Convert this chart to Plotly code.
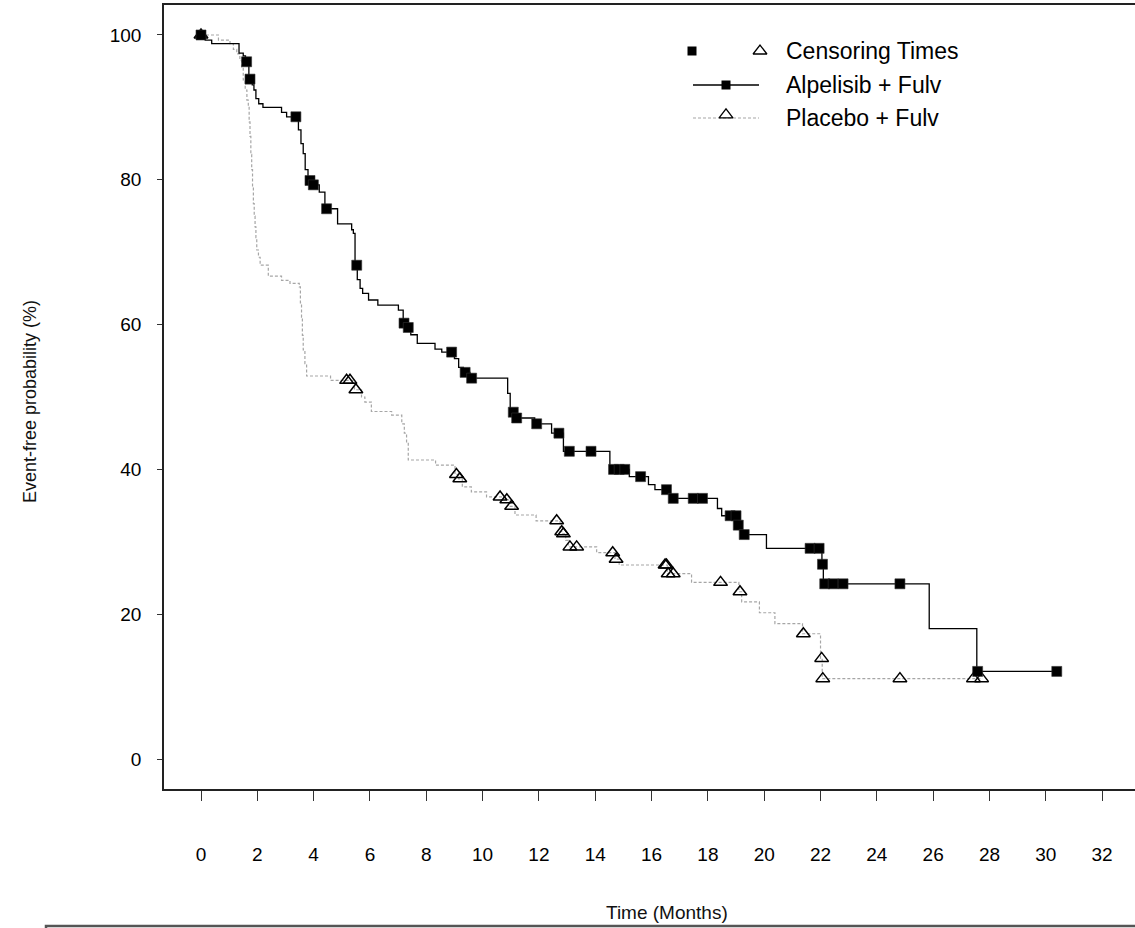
import plotly.graph_objects as go

# ---------------- data ----------------
# Alpelisib + Fulv : Kaplan-Meier step function (time in months, survival %)
A_time = [0, 0.15, 0.38, 1.35, 1.50, 1.58, 1.70, 1.82, 1.88, 1.95, 2.05, 2.20, 2.86, 3.04,
          3.46, 3.55, 3.63, 3.70, 3.80, 3.95, 4.20, 4.40, 4.85, 5.35, 5.41, 5.47, 5.55, 5.65,
          5.74, 5.95, 6.28, 7.01, 7.18, 7.30, 7.45, 7.68, 8.31, 8.55, 9.00, 9.15, 9.32, 9.55,
          10.89, 10.98, 11.15, 11.85, 12.45, 12.87, 14.52, 15.21, 15.89, 16.12, 16.65, 18.34,
          18.49, 19.04, 19.20, 20.08, 22.05, 22.10, 25.86, 27.55, 30.39]
A_surv = [100, 99.3, 98.8, 97.5, 97.1, 96.3, 93.9, 93.1, 92.4, 91.2, 90.5, 90.0, 89.3, 88.7,
          86.9, 85.0, 83.6, 81.4, 79.9, 79.3, 78.3, 76.0, 73.9, 73.1, 72.6, 68.2, 66.2, 65.0,
          64.3, 63.4, 62.7, 62.0, 60.2, 59.6, 58.6, 57.4, 56.6, 56.2, 55.3, 54.1, 53.4, 52.6,
          50.5, 47.9, 47.1, 46.3, 45.0, 42.5, 40.0, 39.0, 37.9, 37.2, 36.0, 34.6,
          33.6, 32.3, 31.0, 29.1, 26.9, 24.2, 18.0, 12.1, 12.1]
# Alpelisib + Fulv : censoring times
A_cens_t = [0, 1.62, 1.74, 3.37, 3.87, 3.99, 4.46, 5.53, 7.21, 7.36, 8.90, 9.38, 9.61, 11.09,
            11.21, 11.92, 12.71, 13.08, 13.85, 14.65, 14.85, 15.05, 15.61, 16.53, 16.77, 17.48,
            17.81, 18.79, 19.00, 19.08, 19.29, 21.63, 21.95, 22.07, 22.15, 22.45, 22.80, 24.82,
            27.58, 30.39]
A_cens_s = [100, 96.3, 93.9, 88.7, 79.9, 79.3, 76.0, 68.2, 60.2, 59.6, 56.2, 53.4, 52.6, 47.9,
            47.1, 46.3, 45.0, 42.5, 42.5, 40.0, 40.0, 40.0, 39.0, 37.2, 36.0, 36.0,
            36.0, 33.6, 33.6, 32.3, 31.0, 29.1, 29.1, 26.9, 24.2, 24.2, 24.2, 24.2,
            12.1, 12.1]

# Placebo + Fulv : Kaplan-Meier step function
P_time = [0, 0.62, 1.03, 1.15, 1.27, 1.38, 1.44, 1.50, 1.57, 1.63, 1.68, 1.71, 1.74, 1.77,
          1.80, 1.83, 1.86, 1.89, 1.92, 1.95, 1.98, 2.04, 2.10, 2.39, 2.86, 3.16, 3.49, 3.53,
          3.57, 3.60, 3.63, 3.69, 3.75, 4.60, 5.45, 5.70, 5.82, 6.05, 6.77, 7.13, 7.22, 7.30,
          7.36, 8.33, 9.02, 9.15, 9.28, 9.60, 10.14, 10.80, 10.98, 11.15, 11.90, 12.75, 12.84,
          12.95, 13.05, 14.05, 14.70, 14.85, 16.56, 17.42, 19.10, 19.20, 19.83, 20.38, 21.36,
          22.00, 22.06, 27.75]
P_surv = [100, 99.3, 98.8, 98.0, 97.4, 96.5, 95.6, 93.8, 92.4, 91.0, 90.1, 88.0, 86.0, 83.5,
          81.4, 79.0, 76.7, 75.0, 73.5, 72.0, 70.3, 69.3, 68.2, 66.7, 66.1, 65.7, 65.2, 63.0,
          61.0, 58.5, 56.5, 54.6, 52.9, 52.3, 51.0, 50.0, 49.3, 48.0, 47.5, 46.3, 45.0, 43.6,
          41.3, 40.6, 39.3, 38.7, 37.6, 36.9, 36.2, 35.8, 34.9, 33.7, 32.9, 31.4, 31.1,
          30.2, 29.3, 28.5, 27.6, 26.8, 25.6, 24.4, 23.1, 21.7, 20.2, 18.7, 17.3,
          13.9, 11.1, 11.1]
# Placebo + Fulv : censoring times
P_cens_t = [0, 5.17, 5.29, 5.50, 9.07, 9.19, 10.62, 10.86, 11.03, 12.63, 12.81, 12.87, 13.10,
            13.34, 14.62, 14.74, 16.48, 16.53, 16.59, 16.77, 18.45, 19.14, 21.39, 22.04, 22.08,
            24.82, 27.43, 27.72]
P_cens_s = [100, 52.3, 52.3, 51.0, 39.3, 38.7, 36.2, 35.8, 34.9, 32.9, 31.4, 31.1, 29.3,
            29.3, 28.5, 27.6, 26.8, 26.8, 25.6, 25.6, 24.4, 23.1, 17.3, 13.9, 11.1,
            11.1, 11.1, 11.1]

x_ticks = list(range(0, 33, 2))
y_ticks = [0, 20, 40, 60, 80, 100]
series_names = ["Alpelisib + Fulv", "Placebo + Fulv"]
censor_label = "Censoring Times"
x_title = "Time (Months)"
y_title = "Event-free probability (%)"

# ---------------- layout geometry (pixels) ----------------
W, H = 1135, 928
ML, MR, MT, MB = 164, 0, 5, 139
PW, PH = W - ML - MR, H - MT - MB


def px(xp):
    return (xp - ML) / PW


def py(yp):
    return (H - MB - yp) / PH


SANS = "Liberation Sans, Arial, Helvetica, sans-serif"
GRAY = "#a6a6a6"
DASH = "3px,2px"
SQ = 10
TRI = 12

fig = go.Figure()

# placebo curve + censoring marks
fig.add_trace(go.Scatter(x=P_time, y=P_surv, mode="lines",
                         line=dict(shape="hv", color=GRAY, width=1.2, dash=DASH),
                         hoverinfo="skip"))
fig.add_trace(go.Scatter(x=P_cens_t, y=P_cens_s, mode="markers",
                         marker=dict(symbol="triangle-up-open", size=TRI, color="black",
                                     line=dict(width=1.5, color="black")),
                         hoverinfo="skip"))
# alpelisib curve + censoring marks
fig.add_trace(go.Scatter(x=A_time, y=A_surv, mode="lines",
                         line=dict(shape="hv", color="black", width=1.3),
                         hoverinfo="skip"))
fig.add_trace(go.Scatter(x=A_cens_t, y=A_cens_s, mode="markers",
                         marker=dict(symbol="square", size=SQ, color="black",
                                     line=dict(width=0.6, color="#333")),
                         hoverinfo="skip"))

# ---------------- custom legend (overlay axes in paper units) ----------------
row_y = [51, 85, 118]
sym_l, sym_r, sym_c = 693, 759, 726
text_x = 784

legend_traces = [
    dict(x=[px(692)], y=[py(row_y[0])], mode="markers",
         marker=dict(symbol="square", size=SQ - 1, color="black")),
    dict(x=[px(760)], y=[py(row_y[0])], mode="markers",
         marker=dict(symbol="triangle-up-open", size=TRI, color="black", line=dict(width=1.3))),
    dict(x=[px(sym_l), px(sym_r)], y=[py(row_y[1])] * 2, mode="lines",
         line=dict(color="black", width=1.3)),
    dict(x=[px(sym_c)], y=[py(row_y[1])], mode="markers",
         marker=dict(symbol="square", size=SQ - 1, color="black")),
    dict(x=[px(sym_l), px(sym_r)], y=[py(row_y[2])] * 2, mode="lines",
         line=dict(color=GRAY, width=1.2, dash=DASH)),
    dict(x=[px(sym_c)], y=[py(row_y[2]) + 0.004], mode="markers",
         marker=dict(symbol="triangle-up-open", size=TRI, color="black", line=dict(width=1.3))),
]
for t in legend_traces:
    fig.add_trace(go.Scatter(xaxis="x2", yaxis="y2", hoverinfo="skip", **t))

annotations = []
for label, yy in zip([censor_label] + series_names, row_y):
    annotations.append(dict(x=px(text_x), y=py(yy), xref="paper", yref="paper",
                            text=label, showarrow=False, xanchor="left", yanchor="middle",
                            font=dict(family=SANS, size=23, color="black")))
annotations.append(dict(x=px(30), y=py(402), xref="paper", yref="paper", text=y_title,
                        textangle=-90, showarrow=False, xanchor="center", yanchor="middle",
                        font=dict(family=SANS, size=18, color="#111")))
annotations.append(dict(x=px(667), y=py(912), xref="paper", yref="paper", text=x_title,
                        showarrow=False, xanchor="center", yanchor="middle",
                        font=dict(family=SANS, size=19, color="#111")))

shapes = [
    # framing line at the bottom of the image
    dict(type="rect", xref="paper", yref="paper", x0=px(46), x1=px(1200),
         y0=py(960), y1=py(926), line=dict(color="#555", width=2.5), fillcolor="rgba(0,0,0,0)"),
]

fig.update_layout(
    width=W, height=H,
    margin=dict(l=ML, r=MR, t=MT, b=MB),
    paper_bgcolor="white", plot_bgcolor="white",
    showlegend=False,
    annotations=annotations,
    shapes=shapes,
    xaxis=dict(range=[-37 / 28.16, (W - 201) / 28.16],
               tickvals=x_ticks, ticktext=[str(v) for v in x_ticks],
               ticks="outside", ticklen=10, tickwidth=1, tickcolor="#333",
               showline=True, linecolor="#222", linewidth=1.5, mirror=True,
               showgrid=False, zeroline=False, ticklabelstandoff=37,
               tickfont=dict(family=SANS, size=19, color="black")),
    yaxis=dict(range=[-4.14, 104.14], tickvals=y_ticks,
               ticks="outside", ticklen=5, tickwidth=1, tickcolor="#333",
               showline=True, linecolor="#222", linewidth=1.5, mirror=False,
               showgrid=False, zeroline=False, ticklabelstandoff=12,
               tickfont=dict(family=SANS, size=19, color="black")),
    xaxis2=dict(overlaying="x", range=[0, 1], visible=False, fixedrange=True),
    yaxis2=dict(overlaying="y", range=[0, 1], visible=False, fixedrange=True),
)

fig.write_html("out.html", config={"displayModeBar": False},
               post_script="document.body.style.margin='0px';document.body.style.padding='0px';")
